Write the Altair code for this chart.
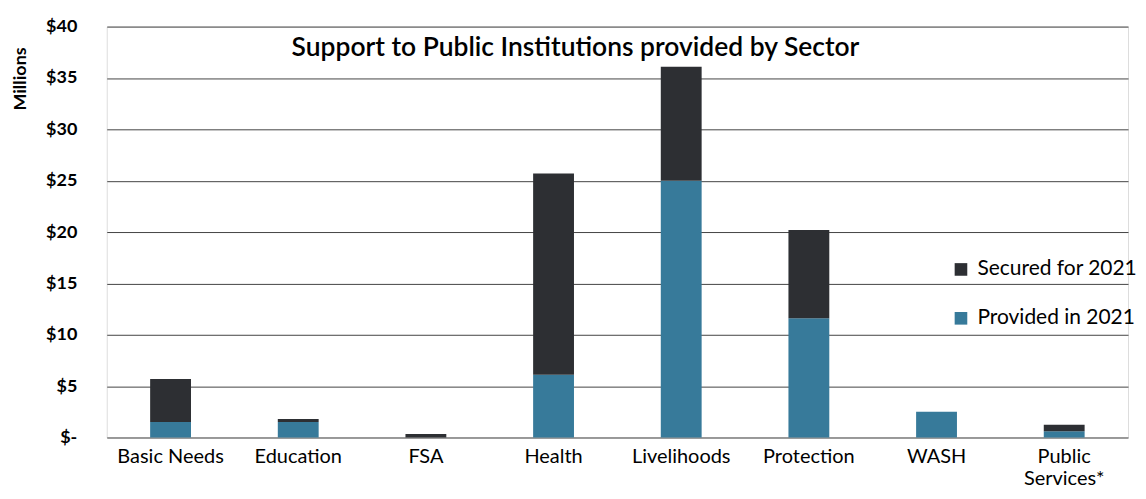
import altair as alt
import pandas as pd

categories = ["Basic Needs", "Education", "FSA", "Health", "Livelihoods",
              "Protection", "WASH", "Public Services*"]
provided = [1.5, 1.5, 0.0, 6.1, 25.0, 11.6, 2.5, 0.6]
secured = [4.2, 0.3, 0.35, 19.6, 11.1, 8.6, 0.0, 0.65]
series_names = ["Secured for 2021", "Provided in 2021"]
series_colors = ["#2d2f33", "#377a9a"]
y_ticks = [0, 5, 10, 15, 20, 25, 30, 35, 40]
title_text = "Support to Public Institutions provided by Sector"

rows = []
for c, p, s in zip(categories, provided, secured):
    rows.append({"cat": c, "series": series_names[1], "value": p, "ord": 0})
    rows.append({"cat": c, "series": series_names[0], "value": s, "ord": 1})
df = pd.DataFrame(rows)

FONT = "Lato"

bars = alt.Chart(df).mark_bar().encode(
    x=alt.X("cat:N", sort=categories, title=None,
            scale=alt.Scale(paddingInner=0.68, paddingOuter=0.34),
            axis=alt.Axis(labelAngle=0, labelFontSize=20, labelColor="#000",
                          labelPadding=9, ticks=False, domain=False, grid=False,
                          labelLineHeight=22,
                          labelExpr="datum.label == 'Public Services*' ? ['Public', 'Services*'] : datum.label")),
    y=alt.Y("value:Q", stack="zero",
            scale=alt.Scale(domain=[0, 40], nice=False),
            axis=alt.Axis(values=y_ticks, title="Millions",
                          labelExpr="datum.value == 0 ? '$-' : '$' + datum.value",
                          labelFontSize=18, labelFontWeight="bold", labelColor="#000",
                          labelPadding=30, ticks=False, domain=False,
                          grid=True, gridColor="#444", gridWidth=1,
                          titleFontSize=18, titleFontWeight="bold", titleColor="#000",
                          titleAngle=-90, titleX=-86, titleY=52,
                          titleAlign="center", titleBaseline="middle")),
    color=alt.Color("series:N",
                    scale=alt.Scale(domain=series_names, range=series_colors),
                    legend=alt.Legend(orient="none", legendX=846, legendY=233,
                                      title=None, symbolType="square", symbolSize=160,
                                      symbolStrokeWidth=0, labelFontSize=21,
                                      labelLimit=400,
                                      labelColor="#000", rowPadding=27, labelOffset=6)),
    order=alt.Order("ord:Q"),
)

title = alt.Chart(pd.DataFrame({"t": [title_text]})).mark_text(
    fontSize=26.5, fontWeight=600, color="#000", align="center", baseline="middle"
).encode(text="t:N", x=alt.value(470), y=alt.value(21))

chart = alt.layer(bars, title).properties(
    width=1024, height=412,
    padding={"left": 4, "top": 9, "right": 0, "bottom": 0},
).configure_view(stroke=None).configure(font=FONT)

chart.save("out.html", embed_options={"renderer": "svg", "actions": False})
